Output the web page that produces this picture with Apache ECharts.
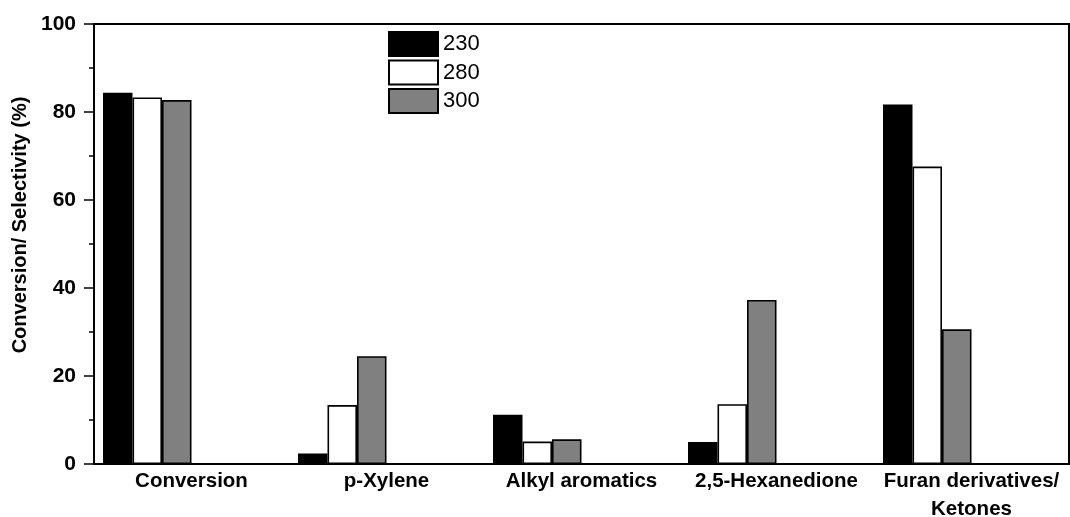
<!DOCTYPE html>
<html>
<head>
<meta charset="utf-8">
<script src="https://cdn.jsdelivr.net/npm/echarts@6/dist/echarts.min.js"></script>
<style>
  html, body { margin: 0; padding: 0; background: #fff; }
  #chart { width: 1070px; height: 517px; }
</style>
</head>
<body>
<div id="chart"></div>
<script>
var categories = ["Conversion", "p-Xylene", "Alkyl aromatics", "2,5-Hexanedione", "Furan derivatives/\nKetones"];
var temps = ["230", "280", "300"];
var values230 = [84.4, 2.4, 11.2, 5.0, 81.7];
var values280 = [83.3, 13.4, 5.1, 13.6, 67.6];
var values300 = [82.7, 24.5, 5.6, 37.3, 30.6];
var yTicks = [0, 20, 40, 60, 80, 100];

var font = "'Liberation Sans', Arial, sans-serif";
var fills = ["#000000", "#ffffff", "#808080"];
var allValues = [values230, values280, values300];

var series = [];
for (var i = 0; i < 3; i++) {
  series.push({
    name: temps[i],
    type: "bar",
    data: allValues[i],
    barWidth: 29.5,
    barGap: "0%",
    itemStyle: { color: fills[i], borderColor: "#000", borderWidth: 1.6 }
  });
}
// three empty slots to the right, so each group sits left of the category centre
for (var j = 0; j < 3; j++) {
  series.push({ name: "empty" + j, type: "bar", data: [], barWidth: 29.5, barGap: "0%" });
}

var chart = echarts.init(document.getElementById("chart"));
chart.setOption({
  animation: false,
  backgroundColor: "#fff",
  grid: {
    left: 94, right: 1, top: 24, bottom: 53,
    outerBoundsMode: "none",
    containLabel: false,
    show: true, borderColor: "#000", borderWidth: 2
  },
  legend: {
    data: temps,
    orient: "vertical",
    left: 383, top: 26,
    itemWidth: 49, itemHeight: 24, itemGap: 2.5,
    icon: "rect",
    textStyle: { fontFamily: font, fontSize: 22, color: "#000" },
    itemStyle: { borderColor: "#000", borderWidth: 2 }
  },
  xAxis: [
    {
      type: "category",
      data: categories,
      axisLine: { lineStyle: { color: "#000", width: 2 } },
      axisTick: { length: 4, lineStyle: { color: "#000", width: 1.5 } },
      axisLabel: {
        interval: 0, margin: 3,
        fontFamily: font, fontSize: 20.5, fontWeight: "bold", color: "#000",
        lineHeight: 28
      }
    },
    {
      type: "category",
      data: categories,
      position: "bottom",
      axisLine: { show: false },
      axisTick: { alignWithLabel: true, length: 8, lineStyle: { color: "#000", width: 1.5 } },
      axisLabel: { show: false }
    }
  ],
  yAxis: {
    type: "value",
    min: yTicks[0], max: yTicks[yTicks.length - 1], interval: 20,
    name: "Conversion/ Selectivity (%)",
    nameLocation: "middle",
    nameGap: 62,
    nameTextStyle: { fontFamily: font, fontSize: 20, fontWeight: "bold", color: "#000", padding: [0, 0, 0, 38] },
    axisLine: { show: true, lineStyle: { color: "#000", width: 2 } },
    axisTick: { show: true, length: 10, lineStyle: { color: "#000", width: 1.5 } },
    minorTick: { show: true, splitNumber: 2, length: 5, lineStyle: { color: "#000", width: 1.5 } },
    splitLine: { show: false },
    axisLabel: { margin: 18, fontFamily: font, fontSize: 21, fontWeight: "bold", color: "#000" }
  },
  series: series
});
</script>
</body>
</html>
